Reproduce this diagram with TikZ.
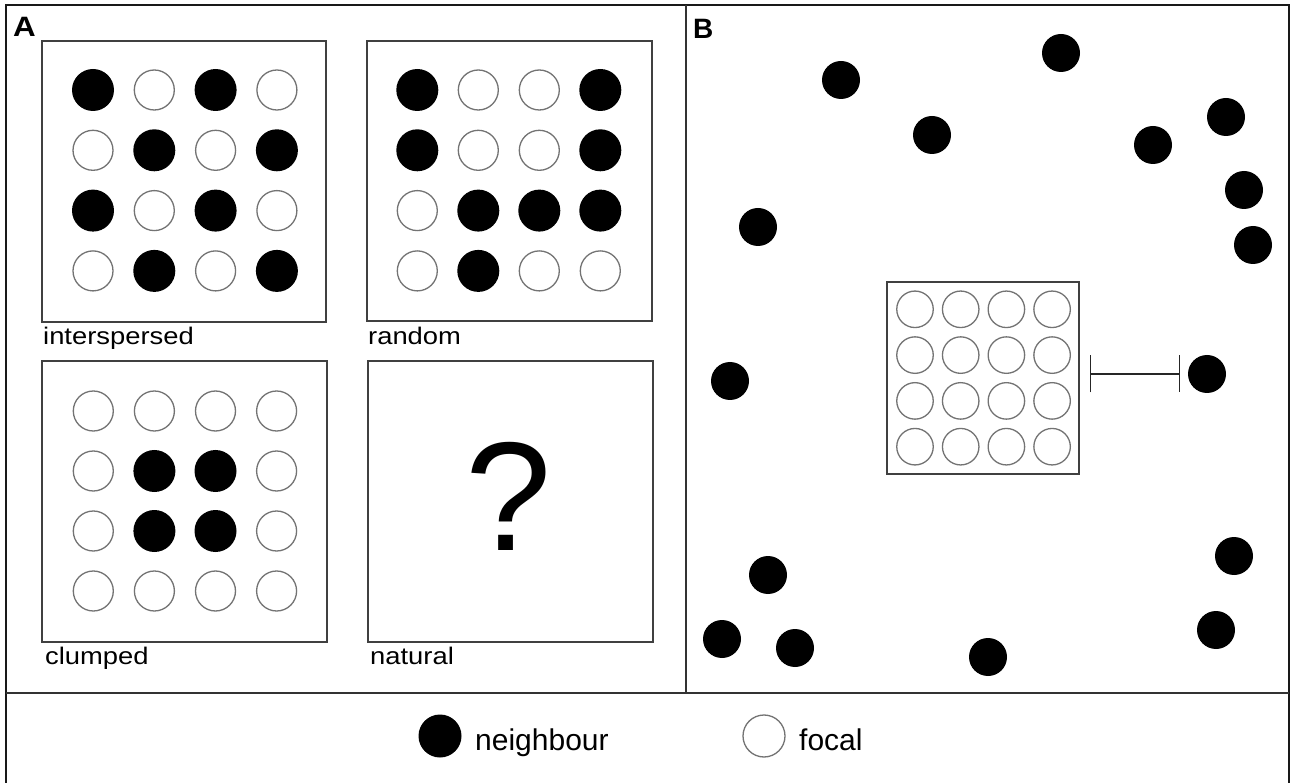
\documentclass[tikz,border=0pt]{standalone}
\usepackage{fontspec}
\setmainfont{Liberation Sans}
\usetikzlibrary{arrows.meta,calc}
\begin{document}
\begin{tikzpicture}[x=1pt,y=-1pt,
  frame/.style={line width=2pt,black!90},
  divider/.style={line width=1.4pt,black!80},
  panelbox/.style={draw=black!75,line width=1.2pt,fill=none,inner sep=0pt},
  nb/.style={circle,fill=black,draw=none,minimum size=42pt,inner sep=0pt},
  fc/.style={circle,draw=black!55,line width=1.3pt,fill=white,minimum size=40pt,inner sep=0pt},
  bdot/.style={circle,fill=black,draw=none,minimum size=38pt,inner sep=0pt},
  gfc/.style={circle,draw=black!55,line width=1.3pt,fill=white,minimum size=36.5pt,inner sep=0pt},
  lbl/.style={anchor=base west,inner sep=0pt,font=\fontsize{24}{28}\selectfont},
  panel/.style={anchor=base west,inner sep=0pt,font=\fontsize{28}{32}\selectfont\bfseries},
  legtext/.style={anchor=base west,inner sep=0pt,font=\fontsize{30}{34}\selectfont},
]
\useasboundingbox (0,0) rectangle (1291,783);
\clip (0,0) rectangle (1291,783);
\fill[white] (0,0) rectangle (1291,783);

% outer frame and dividers
\draw[frame] (6,800) -- (6,5.5) -- (1289,5.5) -- (1289,800);
\draw[divider] (6,693) -- (1289,693);
\draw[divider] (686,5.5) -- (686,693);

% panel letters
\node[panel] (la) at (13,37) {\scalebox{1.12}[1]{A}};
\node[panel] (lb) at (693,38.5) {B};

% ---- panel A: four arrangements ----
\node[panelbox,minimum width=284pt,minimum height=281pt] (b1) at (184,181.5) {};
\node[panelbox,minimum width=285pt,minimum height=280pt] (b2) at (509.5,181) {};
\node[panelbox,minimum width=285pt,minimum height=281pt] (b3) at (184.5,501.5) {};
\node[panelbox,minimum width=285pt,minimum height=281pt] (b4) at (510.5,501.5) {};

% interspersed
\foreach \s [count=\i from 0] in {nb,fc,nb,fc, fc,nb,fc,nb, nb,fc,nb,fc, fc,nb,fc,nb}{
  \pgfmathtruncatemacro\cc{mod(\i,4)}
  \pgfmathtruncatemacro\rr{div(\i,4)}
  \node[\s] (ia\i) at ({93+61.3*\cc},{90+60.3*\rr}) {};
}
% random
\foreach \s [count=\i from 0] in {nb,fc,fc,nb, nb,fc,fc,nb, fc,nb,nb,nb, fc,nb,fc,fc}{
  \pgfmathtruncatemacro\cc{mod(\i,4)}
  \pgfmathtruncatemacro\rr{div(\i,4)}
  \node[\s] (ra\i) at ({417.3+61*\cc},{90+60.3*\rr}) {};
}
% clumped
\foreach \s [count=\i from 0] in {fc,fc,fc,fc, fc,nb,nb,fc, fc,nb,nb,fc, fc,fc,fc,fc}{
  \pgfmathtruncatemacro\cc{mod(\i,4)}
  \pgfmathtruncatemacro\rr{div(\i,4)}
  \node[\s] (ca\i) at ({93.3+61.1*\cc},{411+60*\rr}) {};
}
% natural
\node[anchor=base,inner sep=0pt,font=\fontsize{155}{160}\selectfont] (q) at (509,550) {?};

\node[lbl] (t1) at (43,345) {\scalebox{1.14}[1]{interspersed}};
\node[lbl] (t2) at (368,345) {\scalebox{1.14}[1]{random}};
\node[lbl] (t3) at (45,664) {\scalebox{1.14}[1]{clumped}};
\node[lbl] (t4) at (370,664) {\scalebox{1.14}[1]{natural}};

% ---- panel B: focal group among scattered neighbours ----
\node[panelbox,minimum width=192pt,minimum height=192pt] (fbox) at (983,378) {};
\foreach \i in {0,...,15}{
  \pgfmathtruncatemacro\cc{mod(\i,4)}
  \pgfmathtruncatemacro\rr{div(\i,4)}
  \node[gfc] (g\i) at ({915+45.7*\cc},{309.3+45.8*\rr}) {};
}
\foreach \x/\y [count=\k] in {841/80, 1061/53, 932/135, 1226/117, 1153/145, 1244/190,
    758/227, 1253/245, 730/381, 1207/374, 1234/556, 768/575, 1216/630, 722/639,
    795/648, 988/657}{
  \node[bdot] (d\k) at (\x,\y) {};
}
% distance bar from the focal group to the nearest neighbour
\draw[line width=1.2pt,black!85,{Bar[width=37pt,line width=1.2pt]}-{Bar[width=37pt,line width=1.2pt]},
  shorten <=10pt, shorten >=8pt] (fbox.east |- d10.west) -- (d10.west);

% ---- legend ----
\node[nb,minimum size=43pt] (kn) at (440,736) {};
\node[legtext] (kt) at (475,750) {neighbour};
\node[fc,minimum size=42pt] (kf) at (764,736) {};
\node[legtext] (kft) at (799,750) {focal};
\end{tikzpicture}
\end{document}
